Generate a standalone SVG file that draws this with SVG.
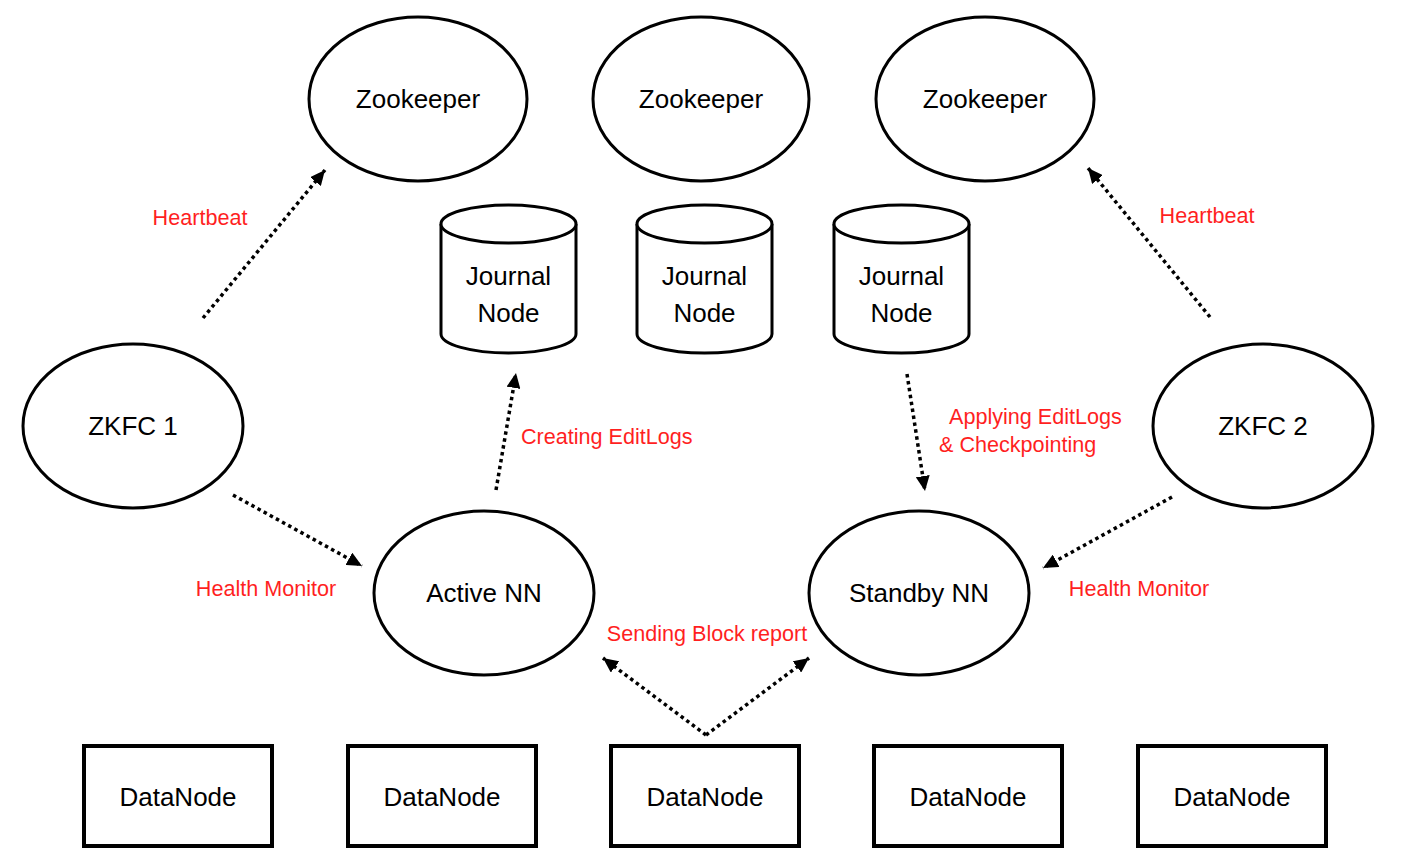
<svg xmlns="http://www.w3.org/2000/svg" width="1401" height="866" viewBox="0 0 1401 866">
<style>
.sh{fill:#fff;stroke:#000;stroke-width:3}
.box{fill:#fff;stroke:#000;stroke-width:4}
.t{font-family:"Liberation Sans",Arial,sans-serif;font-size:26px;fill:#000;text-anchor:middle}
.r{font-family:"Liberation Sans",Arial,sans-serif;font-size:21.6px;fill:#ff1f1f}
.c{text-anchor:middle}
.ln{fill:none;stroke:#000;stroke-width:3.5;stroke-dasharray:3.5 3.5;marker-end:url(#ah)}
</style>
<defs>
<marker id="ah" markerUnits="userSpaceOnUse" markerWidth="16" markerHeight="14" refX="15" refY="7" orient="auto">
<path d="M0,0 L15,7 L0,14 z" fill="#000"/>
</marker>
</defs>
<rect width="1401" height="866" fill="#fff"/>
<g id="zk1"><ellipse class="sh" cx="418" cy="99" rx="109" ry="82"/><text class="t" x="418" y="108">Zookeeper</text></g>
<g id="zk2"><ellipse class="sh" cx="701" cy="99" rx="108" ry="82"/><text class="t" x="701" y="108">Zookeeper</text></g>
<g id="zk3"><ellipse class="sh" cx="985" cy="99" rx="109" ry="82"/><text class="t" x="985" y="108">Zookeeper</text></g>
<g id="jn1"><path class="sh" d="M441,224 L441,334 A67.5,19 0 0 0 576,334 L576,224"/><ellipse class="sh" cx="508.5" cy="224" rx="67.5" ry="19"/><text class="t" x="508.5" y="285">Journal</text><text class="t" x="508.5" y="322">Node</text></g>
<g id="jn2"><path class="sh" d="M637,224 L637,334 A67.5,19 0 0 0 772,334 L772,224"/><ellipse class="sh" cx="704.5" cy="224" rx="67.5" ry="19"/><text class="t" x="704.5" y="285">Journal</text><text class="t" x="704.5" y="322">Node</text></g>
<g id="jn3"><path class="sh" d="M834,224 L834,334 A67.5,19 0 0 0 969,334 L969,224"/><ellipse class="sh" cx="901.5" cy="224" rx="67.5" ry="19"/><text class="t" x="901.5" y="285">Journal</text><text class="t" x="901.5" y="322">Node</text></g>
<g id="zkfc1"><ellipse class="sh" cx="133" cy="426" rx="110" ry="82"/><text class="t" x="133" y="435">ZKFC 1</text></g>
<g id="zkfc2"><ellipse class="sh" cx="1263" cy="426" rx="110" ry="82"/><text class="t" x="1263" y="435">ZKFC 2</text></g>
<g id="active"><ellipse class="sh" cx="484" cy="593" rx="110" ry="82"/><text class="t" x="484" y="602">Active NN</text></g>
<g id="standby"><ellipse class="sh" cx="919" cy="593" rx="110" ry="82"/><text class="t" x="919" y="602">Standby NN</text></g>
<g id="dn1"><rect class="box" x="84" y="746" width="188" height="100"/><text class="t" x="178" y="806">DataNode</text></g>
<g id="dn2"><rect class="box" x="348" y="746" width="188" height="100"/><text class="t" x="442" y="806">DataNode</text></g>
<g id="dn3"><rect class="box" x="611" y="746" width="188" height="100"/><text class="t" x="705" y="806">DataNode</text></g>
<g id="dn4"><rect class="box" x="874" y="746" width="188" height="100"/><text class="t" x="968" y="806">DataNode</text></g>
<g id="dn5"><rect class="box" x="1138" y="746" width="188" height="100"/><text class="t" x="1232" y="806">DataNode</text></g>
<g id="connectors">
<line class="ln" x1="203" y1="318" x2="325" y2="170"/>
<line class="ln" x1="1210" y1="317" x2="1088" y2="168"/>
<line class="ln" x1="233" y1="495" x2="362" y2="566"/>
<line class="ln" x1="1172" y1="497" x2="1043" y2="568"/>
<line class="ln" x1="496" y1="490" x2="516" y2="373"/>
<line class="ln" x1="907" y1="374" x2="925" y2="491"/>
<line class="ln" x1="706" y1="735" x2="603" y2="658"/>
<line class="ln" x1="706" y1="735" x2="809" y2="658"/>
</g>
<g id="labels">
<text class="r c" x="200" y="225">Heartbeat</text>
<text class="r c" x="1207" y="223">Heartbeat</text>
<text class="r" x="521" y="444">Creating EditLogs</text>
<text class="r" x="949" y="424">Applying EditLogs</text>
<text class="r" x="939" y="452">&amp; Checkpointing</text>
<text class="r c" x="266" y="596">Health Monitor</text>
<text class="r c" x="1139" y="596">Health Monitor</text>
<text class="r c" x="707" y="641">Sending Block report</text>
</g>
</svg>
